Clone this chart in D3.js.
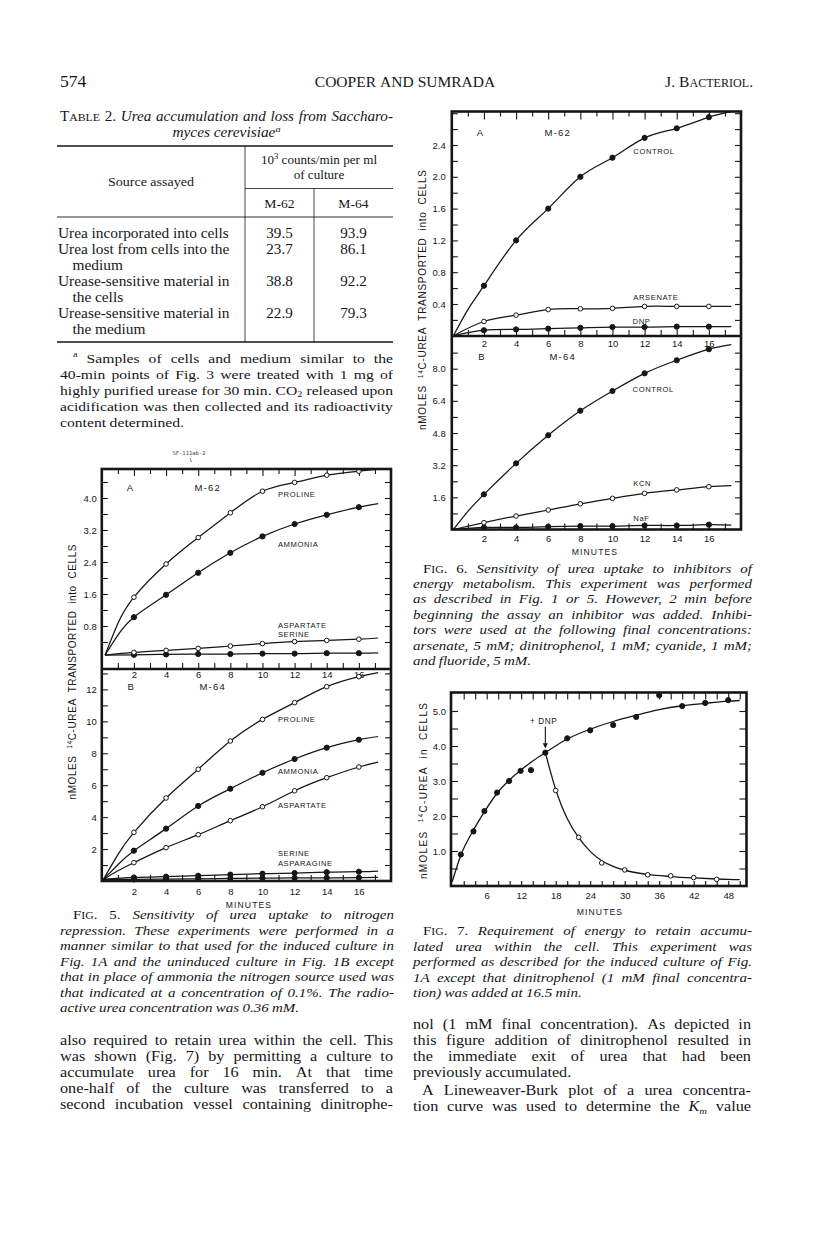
<!DOCTYPE html>
<html><head><meta charset="utf-8">
<script src="https://cdn.jsdelivr.net/npm/d3@7"></script>
<style>body{margin:0;background:#fff}svg{display:block}</style>
</head><body>
<svg id="page" width="816" height="1236"></svg>
<script>
// ---------------- DATA ----------------
const minutes = [2, 4, 6, 8, 10, 12, 14, 16];
// Fig 5A  (M-62)
const f5aProline   = [1.52, 2.35, 3.01, 3.63, 4.17, 4.39, 4.57, 4.67];
const f5aAmmonia   = [1.02, 1.58, 2.13, 2.63, 3.04, 3.35, 3.58, 3.77];
const f5aAspartate = [0.14, 0.19, 0.24, 0.30, 0.36, 0.41, 0.44, 0.47];
const f5aSerine    = [0.08, 0.09, 0.10, 0.10, 0.11, 0.11, 0.12, 0.12];
const f5aEnds      = [4.72, 3.86, 0.50, 0.13];   // value where each drawn line ends (17.2 min)
const f5aAt1min    = [0.86, 0.57, null, null];   // drawn line at 1 min
// Fig 5B  (M-64)
const f5bProline    = [3.05, 5.20, 7.00, 8.77, 10.12, 11.17, 12.17, 12.80];
const f5bAmmonia    = [1.90, 3.28, 4.70, 5.78, 6.78, 7.64, 8.35, 8.85];
const f5bAspartate  = [1.15, 2.09, 2.90, 3.78, 4.65, 5.65, 6.47, 7.14];
const f5bSerine     = [0.22, 0.27, 0.33, 0.40, 0.46, 0.50, 0.55, 0.58];
const f5bAsparagine = [0.10, 0.12, 0.14, 0.16, 0.18, 0.19, 0.20, 0.21];
const f5bEnds       = [13.05, 9.05, 7.45, 0.62, 0.22];
const f5bAt1min     = [1.65, 1.02, 0.64, null, null];
// Fig 6A  (M-62)
const f6aControl  = [0.63, 1.20, 1.60, 2.00, 2.24, 2.49, 2.61, 2.75];
const f6aArsenate = [0.18, 0.26, 0.33, 0.34, 0.345, 0.37, 0.37, 0.37];
const f6aDNP      = [0.07, 0.08, 0.09, 0.10, 0.11, 0.11, 0.115, 0.115];
const f6aEnds     = [2.82, 0.37, 0.115];
const f6aAt1min   = [0.33, null, null];
// Fig 6B  (M-64)
const f6bControl = [1.75, 3.29, 4.69, 5.91, 6.89, 7.77, 8.42, 8.97];
const f6bKCN     = [0.34, 0.67, 0.97, 1.28, 1.55, 1.80, 1.97, 2.13];
const f6bNaF     = [0.10, 0.10, 0.14, 0.17, 0.17, 0.20, 0.20, 0.24];
const f6bEnds    = [9.20, 2.18, 0.22];
const f6bAt1min  = [0.90, null, null];
// Fig 7
const f7AccTimes  = [1.5, 3.7, 5.6, 7.8, 9.9, 11.9, 13.7, 16.2, 20, 24, 28, 32, 36, 40, 44, 48];
const f7AccValues = [0.90, 1.56, 2.14, 2.67, 3.00, 3.29, 3.31, 3.81, 4.22, 4.45, 4.60, 4.83, 5.45, 5.14, 5.23, 5.31];
const f7DnpTimes  = [18, 22, 26, 30, 34, 38, 42, 46];
const f7DnpValues = [2.73, 1.39, 0.66, 0.46, 0.32, 0.29, 0.24, 0.19];
const f7AccFitT   = [0, 1.5, 3.7, 5.6, 7.8, 9.9, 12, 14, 16.2, 20, 24, 28, 32, 36, 40, 44, 48, 50];
const f7AccFitV   = [0.12, 0.88, 1.60, 2.12, 2.65, 3.02, 3.32, 3.57, 3.81, 4.20, 4.48, 4.70, 4.88, 5.04, 5.15, 5.22, 5.28, 5.30];
const f7DnpFitT   = [16.2, 17, 18, 19, 20, 22, 24, 26, 28, 30, 34, 38, 42, 46, 50];
const f7DnpFitV   = [3.81, 3.32, 2.76, 2.30, 1.93, 1.38, 0.99, 0.72, 0.56, 0.45, 0.33, 0.27, 0.23, 0.20, 0.18];
// Table 2
const tableSources = [["Urea incorporated into cells"], ["Urea lost from cells into the", "medium"],
  ["Urease-sensitive material in", "the cells"], ["Urease-sensitive material in", "the medium"]];
const tableM62 = [39.5, 23.7, 38.8, 22.9];
const tableM64 = [93.9, 86.1, 92.2, 79.3];
// tick labels
const f5aYLabels = [0.8, 1.6, 2.4, 3.2, 4.0];
const f5bYLabels = [2, 4, 6, 8, 10, 12];
const f6aYLabels = [0.4, 0.8, 1.2, 1.6, 2.0, 2.4];
const f6bYLabels = [1.6, 3.2, 4.8, 6.4, 8.0];
const f7YLabels  = [1.0, 2.0, 3.0, 4.0, 5.0];
const minLabels  = [2, 4, 6, 8, 10, 12, 14, 16];
const f7XLabels  = [6, 12, 18, 24, 30, 36, 42, 48];

// ---------------- SETUP ----------------
const ink = "#161616";
const serif = "'Liberation Serif','Times New Roman',serif";
const sans = "'Liberation Sans',Arial,Helvetica,sans-serif";
const svg = d3.select("#page");
svg.append("rect").attr("width", 816).attr("height", 1236).attr("fill", "#fff");

// ---------- text helpers ----------
function parse(str, baseItalic) {
  const runs = [];
  const st = {i: false, r: false, sub: false, sup: false, sc: false};
  const re = /<(\/?)(i|r|sub|sup|sc)>/g;
  let last = 0, m;
  const push = t => { if (t) runs.push({t, italic: (baseItalic || st.i) && !st.r, sub: st.sub, sup: st.sup, sc: st.sc}); };
  while ((m = re.exec(str))) { push(str.slice(last, m.index)); st[m[2]] = !m[1]; last = re.lastIndex; }
  push(str.slice(last));
  const words = []; let cur = [];
  runs.forEach(r => {
    r.t.split(" ").forEach((p, k) => {
      if (k > 0) { if (cur.length) words.push(cur); cur = []; }
      if (p) cur.push(Object.assign({}, r, {t: p}));
    });
  });
  if (cur.length) words.push(cur);
  return words;
}
function renderWord(g, word, size) {
  const t = g.append("text").attr("font-family", serif).attr("font-size", size).attr("fill", ink).attr("x", 0).attr("y", 0);
  let shift = 0;
  word.forEach(r => {
    const target = r.sup ? -0.38 * size : r.sub ? 0.22 * size : 0;
    const fs = (r.sup || r.sub) ? size * 0.66 : r.sc ? size * 0.78 : size;
    t.append("tspan").attr("dy", target - shift).attr("font-size", fs)
      .attr("font-style", r.italic ? "italic" : "normal").text(r.t);
    shift = target;
  });
  return t;
}
function buildLine(str, o) {
  const words = parse(str, o.italic);
  const lg = svg.append("g").attr("transform", `translate(0,${o.y})`);
  const nodes = words.map(w => renderWord(lg, w, o.size));
  const widths = nodes.map(n => n.node().getComputedTextLength());
  return {nodes, widths, total: d3.sum(widths), n: words.length, o};
}
function layoutLine(L, sx) {
  const o = L.o, sp = o.size * 0.26;
  const total = L.total * sx;
  const natural = total + sp * (L.n - 1);
  let gap = sp, x = o.x0;
  if (o.align === "justify" && L.n > 1) gap = (o.x1 - o.x0 - total) / (L.n - 1);
  else if (o.align === "center") x = (o.x0 + o.x1) / 2 - natural / 2;
  else if (o.align === "right") x = o.x1 - natural;
  L.nodes.forEach((n, k) => { n.attr("transform", `translate(${x},0) scale(${sx},1)`); x += L.widths[k] * sx + gap; });
}
function textLine(str, o) { layoutLine(buildLine(str, o), o.sx || 1); }
function paragraph(lines, o) {
  const Ls = lines.map((ln, k) => {
    const spec = typeof ln === "string" ? {s: ln} : ln;
    return buildLine(spec.s, {x0: spec.x0 || o.x0, x1: o.x1, y: o.y0 + (spec.dy != null ? spec.dy : k * o.lh),
      size: o.size, italic: o.italic, align: spec.align || "justify"});
  });
  const ratios = Ls.filter(L => L.o.align === "justify" && L.n > 1)
    .map(L => (L.o.x1 - L.o.x0 - L.o.size * 0.26 * (L.n - 1)) / L.total).sort(d3.ascending);
  let sx = d3.quantile(ratios, 0.3) || 1;
  sx = Math.max(1, Math.min(o.maxSx || 1.16, sx));
  Ls.forEach(L => layoutLine(L, sx));
}

// ---------------- HEADER ----------------
textLine("574", {x0: 60, x1: 200, y: 87, size: 16, align: "left", sx: 1.1});
textLine("COOPER AND SUMRADA", {x0: 305, x1: 505, y: 87, size: 15.5, align: "center"});
textLine("J. B<sc>ACTERIOL</sc>.", {x0: 600, x1: 753, y: 87, size: 15.5, align: "right"});

// ---------------- TABLE 2 ----------------
textLine("T<sc>ABLE</sc> 2. <i>Urea accumulation and loss from Saccharo-</i>", {x0: 60, x1: 393, y: 121, size: 14, align: "justify", sx: 1.08});
textLine("<i>myces cerevisiae</i><sup><i>a</i></sup>", {x0: 60, x1: 393, y: 137, size: 14, align: "center", sx: 1.1});
const tl = (x1, y1, x2, y2, w) => svg.append("line").attr("x1", x1).attr("y1", y1).attr("x2", x2).attr("y2", y2)
  .attr("stroke", ink).attr("stroke-width", w);
tl(57, 146, 393, 146, 1.4);
tl(245, 188.5, 393, 188.5, 0.8);
tl(57, 217, 393, 217, 0.9);
tl(57, 342, 393, 342, 1.4);
tl(245, 146, 245, 342, 0.8);
tl(314, 188.5, 314, 342, 0.8);
textLine("10<sup>3</sup> counts/min per ml", {x0: 245, x1: 393, y: 164, size: 12.5, align: "center", sx: 1.05});
textLine("of culture", {x0: 245, x1: 393, y: 178.5, size: 12.5, align: "center", sx: 1.05});
textLine("Source assayed", {x0: 57, x1: 245, y: 185.5, size: 13, align: "center", sx: 1.08});
textLine("M-62", {x0: 245, x1: 314, y: 207.5, size: 13, align: "center", sx: 1.05});
textLine("M-64", {x0: 314, x1: 393, y: 207.5, size: 13, align: "center", sx: 1.05});
let rowLine = 0;
tableSources.forEach((src, i) => {
  const yb = 237.5 + rowLine * 16;
  src.forEach((s, k) => textLine(s, {x0: k ? 72.5 : 58, x1: 245, y: 237.5 + (rowLine + k) * 16, size: 14, align: "left", sx: 1.1}));
  textLine(d3.format(".1f")(tableM62[i]), {x0: 245, x1: 314, y: yb, size: 14, align: "center", sx: 1.08});
  textLine(d3.format(".1f")(tableM64[i]), {x0: 314, x1: 393, y: yb, size: 14, align: "center", sx: 1.08});
  rowLine += src.length;
});
paragraph([
  {s: "<sup>a</sup> Samples of cells and medium similar to the", x0: 73},
  "40-min points of Fig. 3 were treated with 1 mg of",
  "highly purified urease for 30 min. CO<sub>2</sub> released upon",
  "acidification was then collected and its radioactivity",
  {s: "content determined.", align: "left"}
], {x0: 60, x1: 393, y0: 362.5, lh: 16, size: 13.5});

// ---------------- CHART HELPERS ----------------
function ticks(axisFn, scale, vals, size, tx, ty, fmt, pad, fs) {
  const ax = axisFn(scale).tickValues(vals).tickSize(size).tickPadding(pad || 3)
    .tickFormat(fmt || (() => ""));
  const a = svg.append("g").attr("transform", `translate(${tx},${ty})`).call(ax);
  a.select(".domain").remove();
  a.attr("font-family", sans).attr("font-size", fs || 9.5);
  a.selectAll("line").attr("stroke", ink).attr("stroke-width", 1.1);
  a.selectAll("text").attr("fill", ink);
  return a;
}
function series(x, y, times, vals, origin, at1, endT, endV, filled) {
  const pts = times.map((t, i) => [t, vals[i]]);
  const path = [origin].concat(at1 != null ? [[1, at1]] : [], pts, [[endT, endV]]);
  svg.append("path").attr("d", d3.line().x(d => x(d[0])).y(d => y(d[1])).curve(d3.curveNatural)(path))
    .attr("fill", "none").attr("stroke", ink).attr("stroke-width", 1.25);
  dots(x, y, pts, filled);
}
function dots(x, y, pts, filled) {
  svg.append("g").selectAll("circle").data(pts).join("circle")
    .attr("cx", d => x(d[0])).attr("cy", d => y(d[1])).attr("r", filled ? 2.6 : 2.3)
    .attr("fill", filled ? ink : "#fff").attr("stroke", ink).attr("stroke-width", 1);
}
function label(x, y, t, v, txt, opt) {
  opt = opt || {};
  svg.append("text").attr("x", x(t)).attr("y", y(v)).attr("dy", "0.35em")
    .attr("text-anchor", opt.anchor || "start").attr("font-family", sans)
    .attr("font-size", opt.fs || 7.6).attr("letter-spacing", opt.ls != null ? opt.ls : 0.6)
    .attr("fill", ink).text(txt);
}
function vLabel(x, yc, len, parts) {
  const t = svg.append("text").attr("transform", `translate(${x},${yc}) rotate(-90)`)
    .attr("text-anchor", "middle").attr("font-family", sans).attr("font-size", 10)
    .attr("fill", ink).attr("textLength", len).attr("lengthAdjust", "spacing").style("white-space", "pre");
  parts.forEach(p => t.append("tspan").attr("dy", p.dy || 0).attr("font-size", p.fs || 10).text(p.t));
}
function frame(f, w) {
  svg.append("rect").attr("x", f.l).attr("y", f.t).attr("width", f.r - f.l).attr("height", f.b - f.t)
    .attr("fill", "none").attr("stroke", ink).attr("stroke-width", w || 2.6);
  if (f.mid) svg.append("line").attr("x1", f.l).attr("x2", f.r).attr("y1", f.mid).attr("y2", f.mid)
    .attr("stroke", ink).attr("stroke-width", w || 2.6);
}
function xText(cx, cy, txt) {
  svg.append("text").attr("x", cx).attr("y", cy).attr("dy", "0.35em").attr("text-anchor", "middle")
    .attr("font-family", sans).attr("font-size", 8.6).attr("letter-spacing", 1.1).attr("fill", ink).text(txt);
}
const f1 = d3.format(".1f"), f0 = d3.format("d");
const minor = d3.range(1, 18);

// ---------------- FIG 5 ----------------
svg.append("text").attr("x", 189).attr("y", 455).attr("text-anchor", "middle").attr("font-family", "'DejaVu Sans Mono',monospace")
  .attr("font-size", 5.5).attr("fill", "#444").text("SF-111ab-2");
svg.append("line").attr("x1", 190).attr("y1", 458).attr("x2", 191.5).attr("y2", 462).attr("stroke", "#444").attr("stroke-width", 0.7);

const F5 = {l: 101.8, r: 391, t: 469, mid: 669, b: 881};
const x5 = d3.scaleLinear().domain([0, 18]).range([F5.l, F5.r]);
const y5a = d3.scaleLinear().domain([0, 4]).range([658, 498]);
const y5b = d3.scaleLinear().domain([0, 12]).range([F5.b, 689.4]);
ticks(d3.axisTop, x5, minor.filter(d => d % 2 === 0), -7, 0, F5.t);
ticks(d3.axisTop, x5, minor.filter(d => d % 2 === 1), -5, 0, F5.t);
ticks(d3.axisBottom, x5, minor, -6, 0, F5.mid, null);
ticks(d3.axisBottom, x5, minLabels, 0, 0, F5.mid, f0, 2.5);
ticks(d3.axisBottom, x5, minor, -6, 0, F5.b);
ticks(d3.axisBottom, x5, minLabels, 0, 0, F5.b, f0, 7);
ticks(d3.axisLeft, y5a, d3.range(0.4, 4.5, 0.4), -6, F5.l, 0);
ticks(d3.axisLeft, y5a, f5aYLabels, 0, F5.l, 0, f1, 5);
ticks(d3.axisRight, y5a, d3.range(0.4, 4.5, 0.4), -6, F5.r, 0);
ticks(d3.axisLeft, y5b, d3.range(1, 14), -6, F5.l, 0);
ticks(d3.axisLeft, y5b, f5bYLabels, 0, F5.l, 0, f0, 5);
ticks(d3.axisRight, y5b, d3.range(1, 14), -6, F5.r, 0);
series(x5, y5a, minutes, f5aSerine, [0.2, 0.07], f5aAt1min[3], 17.2, f5aEnds[3], true);
series(x5, y5a, minutes, f5aAspartate, [0.2, 0.07], f5aAt1min[2], 17.2, f5aEnds[2], false);
series(x5, y5a, minutes, f5aAmmonia, [0.2, 0.07], f5aAt1min[1], 17.2, f5aEnds[1], true);
series(x5, y5a, minutes, f5aProline, [0.2, 0.07], f5aAt1min[0], 17.2, f5aEnds[0], false);
series(x5, y5b, minutes, f5bAsparagine, [0.1, 0.1], f5bAt1min[4], 17.2, f5bEnds[4], true);
series(x5, y5b, minutes, f5bSerine, [0.1, 0.1], f5bAt1min[3], 17.2, f5bEnds[3], true);
series(x5, y5b, minutes, f5bAspartate, [0.1, 0.1], f5bAt1min[2], 17.2, f5bEnds[2], false);
series(x5, y5b, minutes, f5bAmmonia, [0.1, 0.1], f5bAt1min[1], 17.2, f5bEnds[1], true);
series(x5, y5b, minutes, f5bProline, [0.1, 0.1], f5bAt1min[0], 17.2, f5bEnds[0], false);
frame(F5);
label(x5, y5a, 1.55, 4.25, "A", {fs: 9.5, ls: 0});
label(x5, y5a, 6.6, 4.25, "M-62", {fs: 9.5, ls: 1.2, anchor: "middle"});
label(x5, y5a, 10.96, 4.08, "PROLINE");
label(x5, y5a, 10.96, 2.83, "AMMONIA");
label(x5, y5a, 10.96, 0.81, "ASPARTATE");
label(x5, y5a, 10.96, 0.60, "SERINE");
label(x5, y5b, 1.6, 12.2, "B", {fs: 9.5, ls: 0});
label(x5, y5b, 6.9, 12.2, "M-64", {fs: 9.5, ls: 1.2, anchor: "middle"});
label(x5, y5b, 10.96, 10.14, "PROLINE");
label(x5, y5b, 10.96, 6.84, "AMMONIA");
label(x5, y5b, 10.96, 4.76, "ASPARTATE");
label(x5, y5b, 10.96, 1.73, "SERINE");
label(x5, y5b, 10.96, 1.11, "ASPARAGINE");
xText(249, 905, "MINUTES");
vLabel(75.5, 672, 255, [{t: "nMOLES  "}, {t: "14", fs: 6.5, dy: -3.5}, {t: "C-UREA  TRANSPORTED  into  CELLS", dy: 3.5}]);

// ---------------- FIG 6 ----------------
const F6 = {l: 451.8, r: 741, t: 111.5, mid: 336, b: 529.5};
const x6 = d3.scaleLinear().domain([0, 18]).range([F6.l, F6.r]);
const y6a = d3.scaleLinear().domain([0, 2.4]).range([335.8, 145]);
const y6b = d3.scaleLinear().domain([0, 8]).range([F6.b, 368.7]);
ticks(d3.axisTop, x6, minor.filter(d => d % 2 === 0), -8, 0, F6.t);
ticks(d3.axisTop, x6, minor.filter(d => d % 2 === 1), -5, 0, F6.t);
ticks(d3.axisBottom, x6, minor, -6, 0, F6.mid);
ticks(d3.axisBottom, x6, minLabels, 0, 0, F6.mid, f0, 4);
ticks(d3.axisBottom, x6, minor, -6, 0, F6.b);
ticks(d3.axisBottom, x6, minLabels, 0, 0, F6.b, f0, 6);
ticks(d3.axisLeft, y6a, d3.range(0.2, 2.81, 0.2), -6, F6.l, 0);
ticks(d3.axisLeft, y6a, f6aYLabels, 0, F6.l, 0, f1, 6);
ticks(d3.axisRight, y6a, d3.range(0.2, 2.81, 0.2), -6, F6.r, 0);
ticks(d3.axisLeft, y6b, d3.range(0.8, 8.9, 0.8), -6, F6.l, 0);
ticks(d3.axisLeft, y6b, f6bYLabels, 0, F6.l, 0, f1, 6);
ticks(d3.axisRight, y6b, d3.range(0.8, 8.9, 0.8), -6, F6.r, 0);
series(x6, y6a, minutes, f6aDNP, [0.1, 0], f6aAt1min[2], 17.4, f6aEnds[2], true);
series(x6, y6a, minutes, f6aArsenate, [0.1, 0], f6aAt1min[1], 17.4, f6aEnds[1], false);
series(x6, y6a, minutes, f6aControl, [0.1, 0], f6aAt1min[0], 17.4, f6aEnds[0], true);
series(x6, y6b, minutes, f6bNaF, [0.1, 0], f6bAt1min[2], 17.4, f6bEnds[2], true);
series(x6, y6b, minutes, f6bKCN, [0.1, 0], f6bAt1min[1], 17.4, f6bEnds[1], false);
series(x6, y6b, minutes, f6bControl, [0.1, 0], f6bAt1min[0], 17.4, f6bEnds[0], true);
frame(F6);
label(x6, y6a, 1.55, 2.555, "A", {fs: 9.5, ls: 0});
label(x6, y6a, 6.6, 2.555, "M-62", {fs: 9.5, ls: 1.2, anchor: "middle"});
label(x6, y6a, 11.3, 2.316, "CONTROL");
label(x6, y6a, 11.3, 0.484, "ARSENATE");
label(x6, y6a, 11.25, 0.177, "DNP");
label(x6, y6b, 1.65, 8.6, "B", {fs: 9.5, ls: 0});
label(x6, y6b, 6.9, 8.6, "M-64", {fs: 9.5, ls: 1.2, anchor: "middle"});
label(x6, y6b, 11.25, 6.98, "CONTROL");
label(x6, y6b, 11.3, 2.3, "KCN");
label(x6, y6b, 11.3, 0.56, "NaF");
xText(595, 551.5, "MINUTES");
vLabel(426, 300, 260, [{t: "nMOLES  "}, {t: "14", fs: 6.5, dy: -3.5}, {t: "C-UREA  TRANSPORTED  into  CELLS", dy: 3.5}]);

paragraph([
  {s: "<r>F<sc>IG</sc>. 6.</r> Sensitivity of urea uptake to inhibitors of", x0: 423},
  "energy metabolism. This experiment was performed",
  "as described in Fig. 1 or 5. However, 2 min before",
  "beginning the assay an inhibitor was added. Inhibi-",
  "tors were used at the following final concentrations:",
  "arsenate, 5 mM; dinitrophenol, 1 mM; cyanide, 1 mM;",
  {s: "and fluoride, 5 mM.", align: "left"}
], {x0: 413, x1: 752, y0: 572.5, lh: 15.4, size: 12.5, italic: true, maxSx: 1.2});

// ---------------- FIG 7 ----------------
const F7 = {l: 451, r: 746.5, t: 692.5, b: 886};
const x7 = d3.scaleLinear().domain([0, 48]).range([452.2, 728.2]);
const y7 = d3.scaleLinear().domain([0, 5]).range([886, 711]);
ticks(d3.axisTop, x7, d3.range(2, 51, 2), -7, 0, F7.t);
ticks(d3.axisBottom, x7, d3.range(2, 51, 2), -5, 0, F7.b);
ticks(d3.axisBottom, x7, f7XLabels, 0, 0, F7.b, f0, 6);
ticks(d3.axisLeft, y7, d3.range(0.5, 5.1, 0.5), -7, F7.l, 0);
ticks(d3.axisLeft, y7, f7YLabels, 0, F7.l, 0, f1, 5);
ticks(d3.axisRight, y7, d3.range(0.5, 5.1, 0.5), -7, F7.r, 0);
const line7 = d3.line().x(d => x7(d[0])).y(d => y7(d[1])).curve(d3.curveMonotoneX);
svg.append("path").attr("d", line7(f7AccFitT.map((t, i) => [t, f7AccFitV[i]])))
  .attr("fill", "none").attr("stroke", ink).attr("stroke-width", 1.3);
svg.append("path").attr("d", line7(f7DnpFitT.map((t, i) => [t, f7DnpFitV[i]])))
  .attr("fill", "none").attr("stroke", ink).attr("stroke-width", 1.3);
dots(x7, y7, f7DnpTimes.map((t, i) => [t, f7DnpValues[i]]), false);
dots(x7, y7, f7AccTimes.map((t, i) => [t, f7AccValues[i]]), true);
frame(F7);
svg.append("line").attr("x1", x7(16.2)).attr("x2", x7(16.2)).attr("y1", y7(4.56)).attr("y2", y7(4.05))
  .attr("stroke", ink).attr("stroke-width", 1.1);
svg.append("path").attr("d", `M${x7(16.2) - 2.6},${y7(4.08)} L${x7(16.2) + 2.6},${y7(4.08)} L${x7(16.2)},${y7(3.93)} Z`).attr("fill", ink);
label(x7, y7, 15.9, 4.70, "+ DNP", {fs: 8.2, ls: 0.6, anchor: "middle"});
xText(600, 912, "MINUTES");
vLabel(426.5, 791, 176, [{t: "nMOLES  "}, {t: "14", fs: 6.5, dy: -3.5}, {t: "C-UREA  in  CELLS", dy: 3.5}]);

// ---------------- CAPTIONS / BODY ----------------
paragraph([
  {s: "<r>F<sc>IG</sc>. 5.</r> Sensitivity of urea uptake to nitrogen", x0: 73},
  "repression. These experiments were performed in a",
  "manner similar to that used for the induced culture in",
  "Fig. 1A and the uninduced culture in Fig. 1B except",
  "that in place of ammonia the nitrogen source used was",
  "that indicated at a concentration of 0.1%. The radio-",
  {s: "active urea concentration was 0.36 mM.", align: "left"}
], {x0: 60, x1: 394, y0: 919, lh: 15.5, size: 12.5, italic: true, maxSx: 1.2});

paragraph([
  {s: "<r>F<sc>IG</sc>. 7.</r> Requirement of energy to retain accumu-", x0: 423},
  "lated urea within the cell. This experiment was",
  "performed as described for the induced culture of Fig.",
  "1A except that dinitrophenol (1 mM final concentra-",
  {s: "tion) was added at 16.5 min.", align: "left"}
], {x0: 413, x1: 752, y0: 935, lh: 15.5, size: 12.5, italic: true, maxSx: 1.2});

paragraph([
  "also required to retain urea within the cell. This",
  "was shown (Fig. 7) by permitting a culture to",
  "accumulate urea for 16 min. At that time",
  "one-half of the culture was transferred to a",
  "second incubation vessel containing dinitrophe-"
], {x0: 60, x1: 393, y0: 1044.5, lh: 16.2, size: 14});

paragraph([
  "nol (1 mM final concentration). As depicted in",
  "this figure addition of dinitrophenol resulted in",
  "the immediate exit of urea that had been",
  {s: "previously accumulated.", align: "left"},
  {s: "A Lineweaver-Burk plot of a urea concentra-", x0: 422, dy: 66},
  {s: "tion curve was used to determine the <i>K</i><sub><i>m</i></sub> value", dy: 82.5}
], {x0: 413, x1: 751, y0: 1028.5, lh: 16.2, size: 14});
</script>
</body></html>
